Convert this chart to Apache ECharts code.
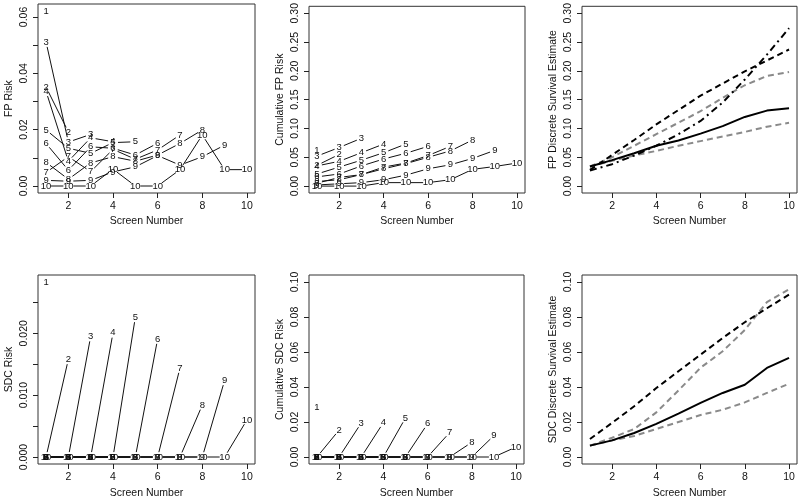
<!DOCTYPE html>
<html>
<head>
<meta charset="utf-8">
<script src="https://cdn.jsdelivr.net/npm/echarts@6/dist/echarts.min.js"></script>
<style>html,body{margin:0;padding:0;background:#fff;}#c{width:800px;height:501px;}</style>
</head>
<body>
<div id="c"></div>
<script>
// ---------------- DATA ----------------
const screens = [1, 2, 3, 4, 5, 6, 7, 8, 9, 10];
const xTicks = [2, 4, 6, 8, 10];

// FP risk per screen, one row per cohort (cohort k has k screens)
const fpRisk = [
  [0.0621],
  [0.0351, 0.0192],
  [0.0511, 0.0156, 0.0183],
  [0.0336, 0.0088, 0.0171, 0.0157],
  [0.0199, 0.0134, 0.0116, 0.0154, 0.0157],
  [0.0151, 0.0056, 0.0139, 0.0134, 0.0110, 0.0152],
  [0.0048, 0.0104, 0.0051, 0.0130, 0.0095, 0.0128, 0.0181],
  [0.0084, 0.0024, 0.0082, 0.0104, 0.0088, 0.0110, 0.0151, 0.0199],
  [0.0020, 0.0017, 0.0020, 0.0050, 0.0068, 0.0108, 0.0074, 0.0104, 0.0145],
  [0.0000, 0.0000, 0.0000, 0.0060, 0.0000, 0.0000, 0.0058, 0.0181, 0.0058, 0.0058]
];
// Cumulative FP risk
const cumFpRisk = [
  [0.062],
  [0.036, 0.055],
  [0.052, 0.067, 0.083],
  [0.035, 0.043, 0.058, 0.073],
  [0.021, 0.033, 0.045, 0.058, 0.073],
  [0.016, 0.021, 0.035, 0.047, 0.057, 0.069],
  [0.005, 0.015, 0.020, 0.033, 0.040, 0.053, 0.069],
  [0.008, 0.011, 0.020, 0.030, 0.039, 0.050, 0.061, 0.080],
  [0.002, 0.004, 0.006, 0.011, 0.019, 0.030, 0.037, 0.048, 0.062],
  [0.000, 0.000, 0.000, 0.006, 0.006, 0.006, 0.011, 0.029, 0.034, 0.040]
];
// FP discrete survival estimates
const fpSurvSolid   = [0.034, 0.045, 0.057, 0.070, 0.079, 0.091, 0.104, 0.120, 0.131, 0.135];
const fpSurvDash    = [0.028, 0.054, 0.080, 0.107, 0.132, 0.157, 0.178, 0.199, 0.218, 0.237];
const fpSurvDashDot = [0.027, 0.038, 0.053, 0.070, 0.090, 0.113, 0.145, 0.185, 0.228, 0.274];
const fpSurvGreyHi  = [0.034, 0.050, 0.070, 0.090, 0.110, 0.130, 0.153, 0.175, 0.191, 0.198];
const fpSurvGreyLo  = [0.034, 0.044, 0.053, 0.061, 0.070, 0.078, 0.086, 0.094, 0.103, 0.110];

// SDC risk per screen
const sdcRisk = [
  [0.0283],
  [0, 0.0158],
  [0, 0, 0.0195],
  [0, 0, 0, 0.0201],
  [0, 0, 0, 0, 0.0226],
  [0, 0, 0, 0, 0, 0.0191],
  [0, 0, 0, 0, 0, 0, 0.0144],
  [0, 0, 0, 0, 0, 0, 0, 0.0084],
  [0, 0, 0, 0, 0, 0, 0, 0, 0.0124],
  [0, 0, 0, 0, 0, 0, 0, 0, 0, 0.0060]
];
// Cumulative SDC risk
const cumSdcRisk = [
  [0.0286],
  [0, 0.0154],
  [0, 0, 0.0194],
  [0, 0, 0, 0.0196],
  [0, 0, 0, 0, 0.0223],
  [0, 0, 0, 0, 0, 0.0190],
  [0, 0, 0, 0, 0, 0, 0.0140],
  [0, 0, 0, 0, 0, 0, 0, 0.0084],
  [0, 0, 0, 0, 0, 0, 0, 0, 0.0122],
  [0, 0, 0, 0, 0, 0, 0, 0, 0, 0.0057]
];
// SDC discrete survival estimates
const sdcSurvSolid  = [0.0065, 0.0095, 0.0137, 0.0189, 0.0248, 0.0309, 0.0366, 0.0413, 0.0509, 0.0566];
const sdcSurvDash   = [0.0103, 0.0195, 0.0290, 0.0394, 0.0490, 0.0585, 0.0680, 0.0770, 0.0850, 0.0928];
const sdcSurvGreyHi = [0.0065, 0.0110, 0.0160, 0.0255, 0.0380, 0.0510, 0.0604, 0.0726, 0.0885, 0.0958];
const sdcSurvGreyLo = [0.0065, 0.0095, 0.0120, 0.0160, 0.0200, 0.0240, 0.0270, 0.0312, 0.0366, 0.0419];

// Tick values / labels
const fpRiskTicks = [0, 0.01, 0.02, 0.03, 0.04, 0.05, 0.06];
const fpRiskLabels = [0, 0.02, 0.04, 0.06];
const fp30Ticks = [0, 0.05, 0.10, 0.15, 0.20, 0.25, 0.30];
const sdcRiskTicks = [0, 0.005, 0.010, 0.015, 0.020, 0.025];
const sdcRiskLabels = [0, 0.010, 0.020];
const sdc10Ticks = [0, 0.02, 0.04, 0.06, 0.08, 0.10];

const yTitles = ['FP Risk', 'Cumulative FP Risk', 'FP Discrete Survival Estimate',
                 'SDC Risk', 'Cumulative SDC Risk', 'SDC Discrete Survival Estimate'];
const xTitle = 'Screen Number';

// ---------------- BUILD ----------------
const FONT = '"Liberation Sans", Arial, sans-serif';
const INK = '#222';
const GREY = '#8a8a8a';
const GAP = 5;

function pad(lo, hi) { const d = (hi - lo) * 0.04; return [lo - d, hi + d]; }
function rowsMax(rows) { let m = 0; rows.forEach(r => r.forEach(v => { if (v > m) m = v; })); return m; }

const grids = [
  {left: 38, top: 4, width: 217, height: 189},
  {left: 309, top: 4, width: 216, height: 189},
  {left: 582, top: 4, width: 215, height: 189},
  {left: 38, top: 275, width: 217, height: 189},
  {left: 309, top: 275, width: 215, height: 189},
  {left: 582, top: 275, width: 215, height: 189}
];

const yCfg = [
  {range: pad(0, rowsMax(fpRisk)), ticks: fpRiskTicks, labels: fpRiskLabels, dec: 2},
  {range: pad(0, 0.30), ticks: fp30Ticks, labels: fp30Ticks, dec: 2},
  {range: pad(0, 0.30), ticks: fp30Ticks, labels: fp30Ticks, dec: 2},
  {range: pad(0, rowsMax(sdcRisk)), ticks: sdcRiskTicks, labels: sdcRiskLabels, dec: 3},
  {range: pad(0, 0.10), ticks: sdc10Ticks, labels: sdc10Ticks, dec: 2},
  {range: pad(0, 0.10), ticks: sdc10Ticks, labels: sdc10Ticks, dec: 2}
];
const xRange = pad(1, 10);

const xAxes = grids.map((g, i) => ({
  type: 'value', gridIndex: i, min: xRange[0], max: xRange[1],
  axisLine: {show: false, onZero: false},
  splitLine: {show: false},
  axisTick: {show: true, customValues: xTicks, length: 5, lineStyle: {color: INK, width: 1}},
  axisLabel: {customValues: xTicks, margin: 8, fontSize: 10.5, color: '#111', fontFamily: FONT,
              formatter: v => String(v)},
  name: xTitle, nameLocation: 'middle', nameGap: i < 3 ? 23 : 24,
  nameTextStyle: {fontSize: 10.5, color: '#111', fontFamily: FONT}
}));

const yAxes = grids.map((g, i) => ({
  type: 'value', gridIndex: i, min: yCfg[i].range[0], max: yCfg[i].range[1],
  axisLine: {show: false, onZero: false},
  splitLine: {show: false},
  axisTick: {show: true, customValues: yCfg[i].ticks, length: 5, lineStyle: {color: INK, width: 1}},
  axisLabel: {customValues: yCfg[i].labels, rotate: 90, margin: 8, fontSize: 10.5, color: '#111',
              fontFamily: FONT, formatter: v => Number(v).toFixed(yCfg[i].dec)},
  name: yTitles[i], nameLocation: 'middle', nameGap: 23,
  nameTextStyle: {fontSize: 10.5, color: '#111', fontFamily: FONT}
}));

// Line segments with gaps around each labelled point (like R type="b")
function segmentSeries(gi, rows) {
  const segs = [];
  rows.forEach(vals => {
    for (let i = 0; i < vals.length - 1; i++) segs.push([screens[i], vals[i], screens[i + 1], vals[i + 1]]);
  });
  return {
    type: 'custom', xAxisIndex: gi, yAxisIndex: gi, silent: true, z: 2,
    dimensions: ['x1', 'y1', 'x2', 'y2'], encode: {x: [0, 2], y: [1, 3]},
    data: segs,
    renderItem: (p, api) => {
      const a = api.coord([api.value(0), api.value(1)]);
      const b = api.coord([api.value(2), api.value(3)]);
      const dx = b[0] - a[0], dy = b[1] - a[1], L = Math.hypot(dx, dy);
      if (L <= 2 * GAP) return null;
      const ux = dx / L, uy = dy / L;
      return {type: 'line',
        shape: {x1: a[0] + ux * GAP, y1: a[1] + uy * GAP, x2: b[0] - ux * GAP, y2: b[1] - uy * GAP},
        style: {stroke: '#111', lineWidth: 1}};
    }
  };
}
function labelSeries(gi, rows) {
  const pts = [];
  rows.forEach((vals, k) => vals.forEach((v, i) => pts.push([screens[i], v, k + 1])));
  return {
    type: 'custom', xAxisIndex: gi, yAxisIndex: gi, silent: true, z: 3,
    dimensions: ['x', 'y', 'k'], encode: {x: 0, y: 1},
    data: pts,
    renderItem: (p, api) => {
      const c = api.coord([api.value(0), api.value(1)]);
      return {type: 'text', x: c[0], y: c[1],
        style: {text: String(api.value(2)), align: 'center', verticalAlign: 'middle',
                fontSize: 9.5, fontFamily: FONT, fill: '#111'}};
    }
  };
}
function curve(gi, vals, color, type, width) {
  return {
    type: 'line', xAxisIndex: gi, yAxisIndex: gi, showSymbol: false, silent: true,
    data: vals.map((v, i) => [screens[i], v]),
    lineStyle: {color: color, type: type, width: width}
  };
}

const series = [
  segmentSeries(0, fpRisk), labelSeries(0, fpRisk),
  segmentSeries(1, cumFpRisk), labelSeries(1, cumFpRisk),
  curve(2, fpSurvGreyHi, GREY, [6, 4], 2),
  curve(2, fpSurvGreyLo, GREY, [6, 4], 2),
  curve(2, fpSurvSolid, '#000', 'solid', 2),
  curve(2, fpSurvDash, '#000', [6, 4], 2),
  curve(2, fpSurvDashDot, '#000', [7, 4, 2, 4], 2),
  segmentSeries(3, sdcRisk), labelSeries(3, sdcRisk),
  segmentSeries(4, cumSdcRisk), labelSeries(4, cumSdcRisk),
  curve(5, sdcSurvGreyHi, GREY, [6, 4], 2),
  curve(5, sdcSurvGreyLo, GREY, [6, 4], 2),
  curve(5, sdcSurvSolid, '#000', 'solid', 2),
  curve(5, sdcSurvDash, '#000', [6, 4], 2)
];

const chart = echarts.init(document.getElementById('c'), null, {renderer: 'canvas'});
chart.setOption({
  animation: false,
  backgroundColor: '#fff',
  grid: grids.map(g => Object.assign({show: true, borderColor: '#333', borderWidth: 1,
                                      backgroundColor: 'transparent', containLabel: false}, g)),
  xAxis: xAxes,
  yAxis: yAxes,
  series: series
});
</script>
</body>
</html>
